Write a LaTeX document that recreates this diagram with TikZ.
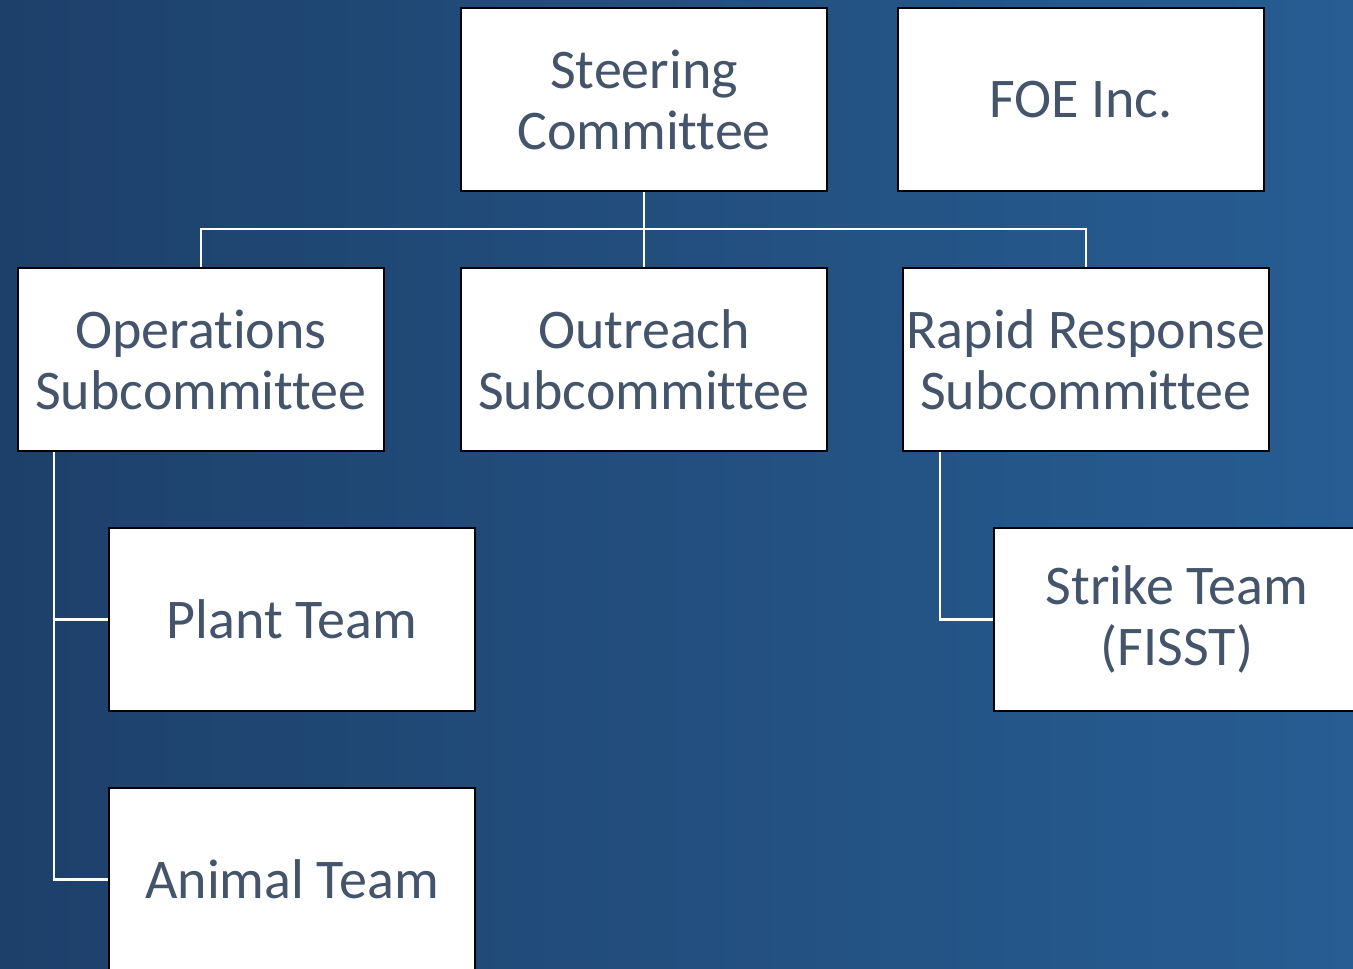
\documentclass[tikz,border=0pt]{standalone}
\usepackage{fontspec}
\setmainfont[Ligatures=NoCommon]{Carlito}
\definecolor{txt}{HTML}{44546A}
\definecolor{bgl}{RGB}{29,64,106}
\definecolor{bgr}{RGB}{39,93,147}
\tikzset{
  box/.style={draw=black, line width=2pt, fill=white, minimum width=366pt, minimum height=183pt,
    inner sep=0pt, align=center, text=txt, font=\fontsize{56}{61}\selectfont},
  conn/.style={draw=white, line width=2.5pt}
}
\begin{document}
\begin{tikzpicture}[x=1pt,y=-1pt]
\shade[left color=bgl, right color=bgr] (0,0) rectangle (1353,969);
\useasboundingbox (0,0) rectangle (1353,969);
\begin{scope}
\clip (0,0) rectangle (1353,969);
\node[box] (steer) at (644,99.5) {Steering\\Committee};
\node[box] (foe) at (1081,99.5) {FOE Inc.};
\node[box] (ops) at (201,359.5) {Operations\\Subcommittee};
\node[box] (out) at (644,359.5) {Outreach\\Subcommittee};
\node[box] (rap) at (1086,359.5) {Rapid Response\\Subcommittee};
\node[box] (plant) at (292,619.5) {Plant Team};
\node[box] (animal) at (292,879.5) {Animal Team};
\node[box] (strike) at (1177,619.5) {Strike Team\\(FISST)};
\coordinate (hb) at (644,229);
\coordinate (ov) at (54,452);
\coordinate (rv) at (940,452);
\draw[conn] (steer.south) -- (out.north);
\draw[conn] (ops.north) |- (hb) -| (rap.north);
\draw[conn] (ov) |- (plant.west);
\draw[conn] (ov) |- (animal.west);
\draw[conn] (rv) |- (strike.west);
\end{scope}
\end{tikzpicture}
\end{document}
